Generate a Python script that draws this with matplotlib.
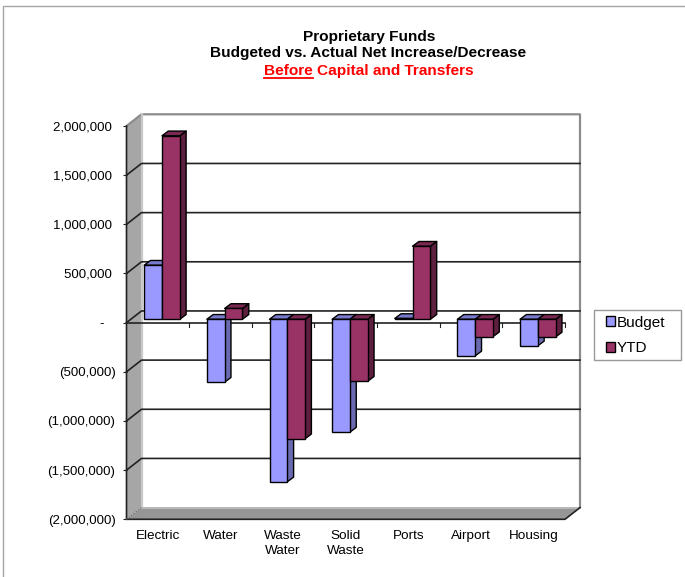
import matplotlib
matplotlib.use("Agg")
import matplotlib.pyplot as plt
from matplotlib.patches import Patch, Polygon, Rectangle

plt.rcParams["font.family"] = ["Liberation Sans", "DejaVu Sans"]

categories = ["Electric", "Water", "Waste\nWater", "Solid\nWaste", "Ports", "Airport", "Housing"]
budget = [550000, -640000, -1653000, -1148000, 8000, -372000, -270000]
ytd = [1866000, 110000, -1215000, -630000, 743000, -177000, -180000]
y_ticks = [2000000, 1500000, 1000000, 500000, 0, -500000, -1000000, -1500000, -2000000]
y_labels = ["2,000,000 ", "1,500,000 ", "1,000,000 ", "500,000 ", "-   ",
            "(500,000)", "(1,000,000)", "(1,500,000)", "(2,000,000)"]

W, H = 685, 577
LEFT, RIGHT, TOP, BOTTOM = 126.5, 565.0, 126.0, 519.3

fig = plt.figure(figsize=(W / 100, H / 100), dpi=100, facecolor="white")

# page border along the top and left
fig.add_artist(plt.Line2D([3 / W, 3 / W, 1], [0, 1 - 6 / H, 1 - 6 / H], color="#a6a6a6", lw=1.0))

ax = fig.add_axes([LEFT / W, 1 - BOTTOM / H, (RIGHT - LEFT) / W, (BOTTOM - TOP) / H])
ax.set_xlim(0, len(categories))
ax.set_ylim(-2000000, 2000000)
ax.patch.set_visible(False)
for s in ax.spines.values():
    s.set_visible(False)

# pixel to data factors, for the fake 3d depth
px_x = len(categories) / (RIGHT - LEFT)
px_y = 4000000 / (BOTTOM - TOP)
wall_dx, wall_dy = 15.0 * px_x, 11.7 * px_y
bar_dx, bar_dy = 6.3 * px_x, 4.7 * px_y
lift_x, lift_y = 4.2 * px_x, 3.4 * px_y
bar_w = 17.8 * px_x
x_end = len(categories)


def face(points, color, z, edge="black", lw=1.0):
    ax.add_patch(Polygon(points, closed=True, facecolor=color, edgecolor=edge,
                         linewidth=lw, zorder=z, clip_on=False, joinstyle="round"))


# walls and floor
face([(0, 2000000), (wall_dx, 2000000 + wall_dy), (wall_dx, -2000000 + wall_dy), (0, -2000000)],
     "#a6a6a6", 1, edge="none")
face([(0, -2000000), (wall_dx, -2000000 + wall_dy), (x_end + wall_dx, -2000000 + wall_dy), (x_end, -2000000)],
     "#969696", 1, edge="none")
ax.plot([0, wall_dx, x_end + wall_dx, x_end + wall_dx],
        [2000000, 2000000 + wall_dy, 2000000 + wall_dy, -2000000 + wall_dy],
        color="#8c8c8c", lw=1.6, zorder=2, clip_on=False, solid_capstyle="butt")
ax.plot([wall_dx, wall_dx], [2000000 + wall_dy, -2000000 + wall_dy], color="#c8c8c8", lw=1.6, zorder=2, clip_on=False)
ax.plot([wall_dx, x_end + wall_dx], [-2000000 + wall_dy, -2000000 + wall_dy], color="#b8b8b8", lw=1.4, zorder=2, clip_on=False)

# gridlines run across the back wall and down the side wall
for v in y_ticks[1:-1]:
    ax.plot([0, wall_dx, x_end + wall_dx], [v, v + wall_dy, v + wall_dy],
            color="#222222", lw=1.2, zorder=3, clip_on=False)

# front edges and axis lines
ax.plot([0, 0, x_end, x_end + wall_dx], [2000000, -2000000, -2000000, -2000000 + wall_dy],
        color="#222222", lw=1.2, zorder=3, clip_on=False)
ax.plot([0, x_end], [0, 0], color="#222222", lw=1.2, zorder=3, clip_on=False)
ax.plot([0, wall_dx], [-2000000, -2000000 + wall_dy], color="#666666", lw=0.8, ls=":", zorder=3, clip_on=False)
for i in range(1, x_end + 1):
    ax.plot([i, i], [0, -4 * px_y], color="#222222", lw=0.8, zorder=3, clip_on=False)


def draw_bar(x0, value, front, side, top, z):
    base = lift_y
    y1 = base + value
    hi = max(base, y1)
    lo = min(base, y1)
    x1 = x0 + bar_w
    face([(x1, lo), (x1 + bar_dx, lo + bar_dy), (x1 + bar_dx, hi + bar_dy), (x1, hi)], side, z)
    face([(x0, hi), (x0 + bar_dx, hi + bar_dy), (x1 + bar_dx, hi + bar_dy), (x1, hi)], top, z)
    ax.bar(x0, value, width=bar_w, bottom=base, align="edge", color=front,
           edgecolor="black", linewidth=1.0, zorder=z + 0.1, clip_on=False)


for i in range(len(categories)):
    center = i + 0.5 + lift_x
    draw_bar(center - bar_w, budget[i], "#9999ff", "#6a6ab0", "#7a7acc", 5 + i)
    draw_bar(center, ytd[i], "#993366", "#5c1f3d", "#7a2952", 5.5 + i)

ax.set_yticks(y_ticks)
ax.set_yticklabels(y_labels)
ax.set_xticks([i + 0.5 for i in range(len(categories))])
ax.set_xticklabels(categories, linespacing=1.25)
ax.tick_params(axis="y", length=3, width=0.8, color="#222222", pad=5, labelsize=9.5)
ax.tick_params(axis="x", length=0, pad=8, labelsize=9.7)

# titles
title_size = 11.1
fig.text(369.5 / W, 1 - 36.5 / H, "Proprietary Funds", ha="center", va="center", fontsize=title_size, fontweight="bold")
fig.text(368.5 / W, 1 - 52.5 / H, "Budgeted vs. Actual Net Increase/Decrease", ha="center", va="center",
         fontsize=title_size, fontweight="bold")
sub = fig.text(369 / W, 1 - 71 / H, "Before Capital and Transfers", ha="center", va="center",
               fontsize=title_size, fontweight="bold", color="#ff0000")

# underline only the first word of the red line
fig.canvas.draw()
rend = fig.canvas.get_renderer()
full_box = sub.get_window_extent(rend)
probe = fig.text(0, 0, "Before", fontsize=title_size, fontweight="bold")
word_w = probe.get_window_extent(rend).width
probe.remove()
fig.add_artist(plt.Line2D([full_box.x0 / W, (full_box.x0 + word_w) / W], [1 - 77.5 / H, 1 - 77.5 / H],
                          color="#ff0000", lw=1.3))

# legend box is drawn on its own so it can be wider than the entries
fig.add_artist(Rectangle((594 / W, 1 - 360 / H), 87 / W, 50 / H, transform=fig.transFigure,
                         facecolor="white", edgecolor="#999999", linewidth=1.0))
handles = [Patch(facecolor="#9999ff", edgecolor="black", linewidth=1.0, label="Budget"),
           Patch(facecolor="#993366", edgecolor="black", linewidth=1.0, label="YTD")]
leg = fig.legend(handles=handles, loc="upper left", bbox_to_anchor=(606 / W, 1 - 315.5 / H), borderaxespad=0,
                 fontsize=11, frameon=False, handlelength=0.58, handleheight=0.58,
                 handletextpad=0.12, labelspacing=0.78, borderpad=0)
leg.set_zorder(5)

fig.savefig("out.png", dpi=100)
